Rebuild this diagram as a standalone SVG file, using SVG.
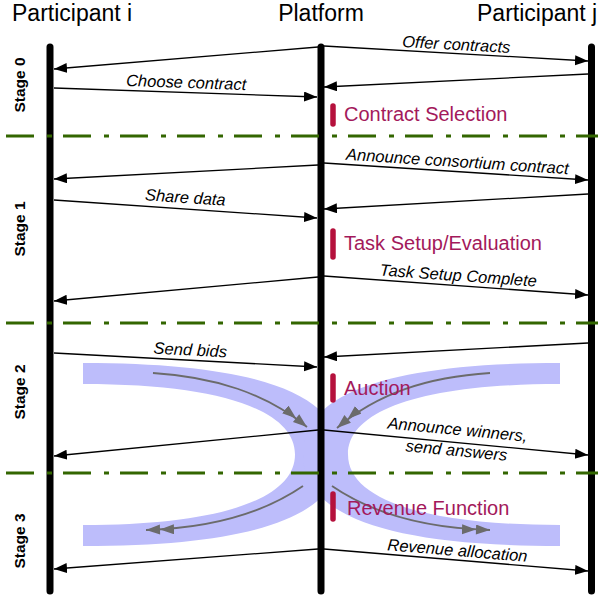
<svg xmlns="http://www.w3.org/2000/svg" width="598" height="600" viewBox="0 0 598 600">
<style>
.title{font-family:"Liberation Sans",Arial,sans-serif;font-size:23px;fill:#000}
.stage{font-family:"Liberation Sans",Arial,sans-serif;font-size:15.5px;font-weight:bold;fill:#000}
.lbl{font-family:"Liberation Sans",Arial,sans-serif;font-size:16.5px;font-style:italic;fill:#000}
.phase{font-family:"Liberation Sans",Arial,sans-serif;font-size:20px;fill:#a3195b}
.life{stroke:#000;stroke-width:7;stroke-linecap:round}
.sep{stroke:#336600;stroke-width:3;stroke-dasharray:28 13 5 11;fill:none}
.msg{stroke:#000;stroke-width:1.3;fill:none;marker-end:url(#ah)}
.band{fill:#bdbdfb;stroke:none}
.flow{stroke:#6b6b6b;stroke-width:1.8;fill:none;marker-end:url(#dh)}
.bar{stroke:#b5113c;stroke-width:5.5;stroke-linecap:round}
</style>
<defs>
<marker id="ah" markerUnits="userSpaceOnUse" markerWidth="14" markerHeight="11" refX="13" refY="5" orient="auto">
<path d="M0,0 L13,5 L0,10 Z" fill="#000"/>
</marker>
<marker id="dh" markerUnits="userSpaceOnUse" markerWidth="29" markerHeight="11" refX="28" refY="5" orient="auto">
<path d="M0,0 L14,5 L0,10 Z M14,0 L28,5 L14,10 Z" fill="#6b6b6b"/>
</marker>
</defs>
<g id="flows">
<path class="band" d="M83 363 C260 363 340 395 340 454.5 C340 514 260 546 83 546 L83 525 C220 525 295 499 295 454.5 C295 410 220 384 83 384 Z"/>
<path class="band" d="M560 363 C383 363 303 395 303 454.5 C303 514 383 546 560 546 L560 525 C423 525 348 499 348 454.5 C348 410 423 384 560 384 Z"/>
<path class="flow" d="M153 373 C215 377 265 393 307 427"/>
<path class="flow" d="M490 373 C428 377 378 393 337 428"/>
<path class="flow" d="M303 486 C265 512 215 528 146 530"/>
<path class="flow" d="M332 486 C370 512 420 528 490 530"/>
</g>
<g id="participant-i">
<text class="title" x="12" y="21">Participant i</text>
<line class="life" x1="50" y1="47" x2="50" y2="591"/>
</g>
<g id="platform">
<text class="title" x="321" y="21" text-anchor="middle">Platform</text>
<line class="life" x1="321" y1="47" x2="321" y2="591"/>
</g>
<g id="participant-j">
<text class="title" x="477" y="21">Participant j</text>
<line class="life" x1="591.5" y1="47" x2="591.5" y2="591"/>
</g>
<g id="stages">
<line class="sep" x1="6" y1="136" x2="598" y2="136"/>
<line class="sep" x1="6" y1="323" x2="598" y2="323"/>
<line class="sep" x1="6" y1="473" x2="598" y2="473"/>
<text class="stage" transform="translate(25,85) rotate(-90)" text-anchor="middle">Stage 0</text>
<text class="stage" transform="translate(25,229) rotate(-90)" text-anchor="middle">Stage 1</text>
<text class="stage" transform="translate(25,392) rotate(-90)" text-anchor="middle">Stage 2</text>
<text class="stage" transform="translate(25,541) rotate(-90)" text-anchor="middle">Stage 3</text>
</g>
<g id="phases">
<line class="bar" x1="333" y1="106" x2="333" y2="124"/>
<text class="phase" x="344" y="121">Contract Selection</text>
<line class="bar" x1="333" y1="231" x2="333" y2="257"/>
<text class="phase" x="344" y="250">Task Setup/Evaluation</text>
<line class="bar" x1="333" y1="376" x2="333" y2="400"/>
<text class="phase" x="344" y="395">Auction</text>
<line class="bar" x1="333" y1="494" x2="333" y2="519"/>
<text class="phase" x="347" y="515">Revenue Function</text>
</g>
<g id="connectors">
<line class="msg" x1="318" y1="47" x2="54" y2="69"/>
<line class="msg" x1="324" y1="46" x2="588" y2="61"/>
<text class="lbl" transform="translate(456,50) rotate(3.25)" text-anchor="middle">Offer contracts</text>
<line class="msg" x1="54" y1="88" x2="317" y2="97"/>
<text class="lbl" transform="translate(186,88) rotate(2)" text-anchor="middle">Choose contract</text>
<line class="msg" x1="588" y1="74" x2="324" y2="87"/>

<line class="msg" x1="318" y1="165" x2="54" y2="179"/>
<line class="msg" x1="324" y1="163" x2="588" y2="180"/>
<text class="lbl" transform="translate(457,167) rotate(3.7)" text-anchor="middle">Announce consortium contract</text>
<line class="msg" x1="54" y1="200" x2="317" y2="218"/>
<text class="lbl" transform="translate(185,203) rotate(3.9)" text-anchor="middle">Share data</text>
<line class="msg" x1="588" y1="194" x2="324" y2="209"/>
<line class="msg" x1="318" y1="277" x2="54" y2="301"/>
<line class="msg" x1="324" y1="276" x2="588" y2="295"/>
<text class="lbl" transform="translate(458,281) rotate(4.1)" text-anchor="middle">Task Setup Complete</text>

<line class="msg" x1="54" y1="353" x2="317" y2="367"/>
<text class="lbl" transform="translate(190,355.5) rotate(3)" text-anchor="middle">Send bids</text>
<line class="msg" x1="588" y1="343" x2="324" y2="357"/>
<line class="msg" x1="318" y1="430" x2="54" y2="456"/>
<line class="msg" x1="324" y1="430" x2="588" y2="455"/>
<text class="lbl" transform="translate(457,435) rotate(5.4)" text-anchor="middle">Announce winners,</text>
<text class="lbl" transform="translate(456,456) rotate(5.4)" text-anchor="middle">send answers</text>

<line class="msg" x1="324" y1="549" x2="588" y2="571"/>
<text class="lbl" transform="translate(457,556) rotate(4.8)" text-anchor="middle">Revenue allocation</text>
<line class="msg" x1="318" y1="549" x2="54" y2="569"/>
</g>
</svg>
